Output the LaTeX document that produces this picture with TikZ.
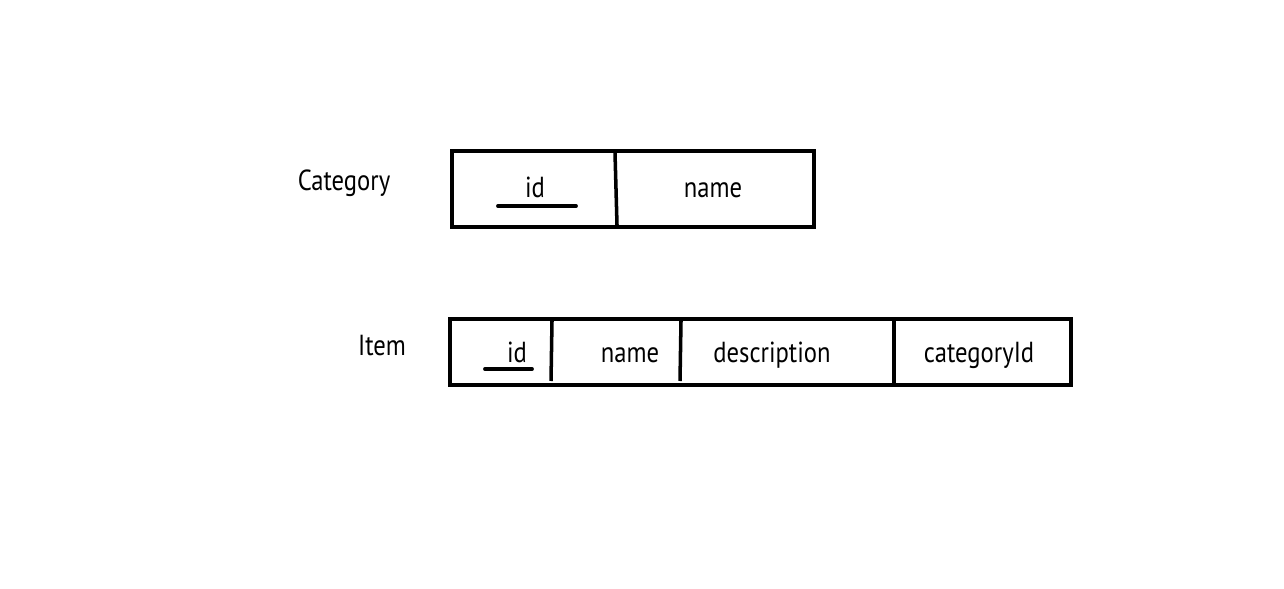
\documentclass[tikz,border=0pt]{standalone}
\usepackage{fontspec}
\setmainfont[FakeStretch=0.85]{PT Sans}
\begin{document}
\begin{tikzpicture}[x=0.02cm,y=-0.02cm,
    frame/.style={line width=2.6pt},
    divider/.style={line width=2pt},
    keyline/.style={line width=2.2pt, line cap=round},
    field/.style={anchor=base, font=\fontsize{16.5}{18}\selectfont}]

    \useasboundingbox (0,0) rectangle (1284,588);

    % Category
    \node [field] (catlabel) at (344,190) {Category};
    \draw [frame] (452,151) rectangle (814,227);
    \draw [divider] (615,153) -- (617,225);
    \node [field] (catid) at (535,197) {id};
    \draw [keyline] (498,206) -- (576,206);
    \node [field] (catname) at (713,197) {name};

    % Item
    \node [field] (itemlabel) at (382,355) {Item};
    \draw [frame] (450,319) rectangle (1071,385);
    \draw [divider] (552,321) -- (551,381);
    \draw [divider] (681,321) -- (680,381);
    \draw [frame] (894,319) -- (894,385);
    \node [field] (itemid) at (517,362) {id};
    \draw [keyline] (485,369) -- (532,369);
    \node [field] (itemname) at (630,362) {name};
    \node [field] (itemdesc) at (772,362) {description};
    \node [field] (itemcat) at (979,362) {categoryId};

\end{tikzpicture}
\end{document}
